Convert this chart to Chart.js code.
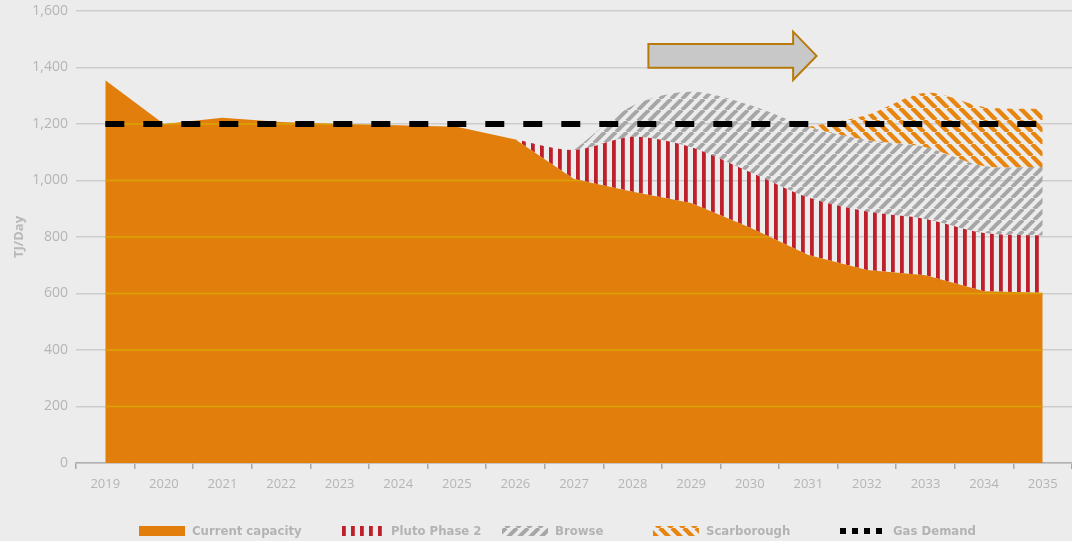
<!DOCTYPE html>
<html>
<head>
<meta charset="utf-8">
<script src="https://cdn.jsdelivr.net/npm/chart.js@4.4.1/dist/chart.umd.min.js"></script>
<style>
  html, body { margin: 0; padding: 0; background: #ececec; }
  #wrap { width: 1072px; height: 541px; position: relative; }
</style>
</head>
<body>
<div id="wrap"><canvas id="chart"></canvas></div>
<script>
// values, TJ/day
const years = ['2019', '2020', '2021', '2022', '2023', '2024', '2025', '2026', '2027',
  '2028', '2029', '2030', '2031', '2032', '2033', '2034', '2035'];
const currentCapacity = [1355, 1200, 1222, 1207, 1200, 1196, 1190, 1145, 1005, 960, 920, 834, 736, 683, 665, 608, 603];
// increments stacked on top of current capacity
const plutoPhase2 = [null, null, null, null, null, null, null, 0, 103, 195, 198, 196, 204, 207, 199, 206, 202];
const browse = [null, null, null, null, null, null, null, null, 0, 110, 196, 237, 250, 253, 254, 237, 243];
const scarborough = [null, null, null, null, null, null, null, null, null, null, null, null, 0, 89, 193, 209, 205];
const gasDemand = [1200, 1200, 1200, 1200, 1200, 1200, 1200, 1200, 1200, 1200, 1200, 1200, 1200, 1200, 1200, 1200, 1200];
const yTicks = [0, 200, 400, 600, 800, 1000, 1200, 1400, 1600];

const canvas = document.getElementById('chart');
const ctx = canvas.getContext('2d');

// hatch fills
function vStripes(color) {
  const c = document.createElement('canvas');
  c.width = 9; c.height = 9;
  const g = c.getContext('2d');
  g.fillStyle = color;
  g.fillRect(0, 0, 3.8, 9);
  return ctx.createPattern(c, 'repeat');
}
function diagStripes(color, size, lw, dir) {
  const c = document.createElement('canvas');
  c.width = size; c.height = size;
  const g = c.getContext('2d');
  g.strokeStyle = color;
  g.lineWidth = lw;
  for (let o = -size; o <= size; o += size) {
    g.beginPath();
    if (dir === '/') { g.moveTo(o, size); g.lineTo(o + size, 0); }
    else { g.moveTo(o, 0); g.lineTo(o + size, size); }
    g.stroke();
  }
  return ctx.createPattern(c, 'repeat');
}

const orange = '#e27f0c';
const redHatch = vStripes('#bd1f2b');
const greyHatch = diagStripes('#a6a6a6', 11, 4, '/');
const orangeHatch = diagStripes('#e8850f', 12, 4.4, '\\');

// yellowish grid lines seen through the orange area
const gridOnOrange = {
  id: 'gridOnOrange',
  afterDatasetDraw(chart, args) {
    if (args.index !== 0) return;
    const pts = chart.getDatasetMeta(0).data;
    const y = chart.scales.y;
    const c = chart.ctx;
    c.save();
    c.beginPath();
    c.moveTo(pts[0].x, y.bottom);
    pts.forEach(p => c.lineTo(p.x, p.y));
    c.lineTo(pts[pts.length - 1].x, y.bottom);
    c.closePath();
    c.clip();
    c.strokeStyle = '#d9a400';
    c.lineWidth = 1.5;
    yTicks.forEach(v => {
      if (v === 0) return;
      const py = y.getPixelForValue(v);
      c.beginPath();
      c.moveTo(pts[0].x, py);
      c.lineTo(pts[pts.length - 1].x, py);
      c.stroke();
    });
    c.restore();
  }
};

// arrow over 2028-2031
const arrow = {
  id: 'arrow',
  afterDatasetsDraw(chart) {
    const x = chart.scales.x, y = chart.scales.y, c = chart.ctx;
    const X = v => x.getPixelForValue(v), Y = v => y.getPixelForValue(v);
    c.save();
    c.beginPath();
    c.moveTo(X(9.27), Y(1483));
    c.lineTo(X(11.74), Y(1483));
    c.lineTo(X(11.74), Y(1527));
    c.lineTo(X(12.14), Y(1441));
    c.lineTo(X(11.74), Y(1356));
    c.lineTo(X(11.74), Y(1399));
    c.lineTo(X(9.27), Y(1399));
    c.closePath();
    c.fillStyle = '#c8c8c8';
    c.fill();
    c.strokeStyle = '#b87a0c';
    c.lineWidth = 2;
    c.stroke();
    c.restore();
  }
};

// legend drawn along the bottom
const legendX = [139, 338, 502, 653, 840];
const bottomLegend = {
  id: 'bottomLegend',
  afterDraw(chart) {
    const c = chart.ctx;
    const ly = 531;
    c.save();
    c.font = 'bold 13px "DejaVu Sans Condensed", "Liberation Sans Narrow", sans-serif';
    c.textBaseline = 'middle';
    chart.data.datasets.forEach((ds, i) => {
      const bx = legendX[i];
      if (ds.fill === false) {
        c.fillStyle = '#000';
        for (let k = 0; k < 4; k++) c.fillRect(bx + k * 12, ly - 3, 6, 6);
      } else {
        c.fillStyle = ds.backgroundColor;
        c.fillRect(bx, ly - 5, 46, 10);
      }
      c.fillStyle = '#b3b3b3';
      c.fillText(ds.label, bx + 53, ly + 1);
    });
    c.restore();
  }
};

new Chart(ctx, {
  type: 'line',
  data: {
    labels: years,
    datasets: [
      {
        label: 'Current capacity',
        data: currentCapacity,
        backgroundColor: orange,
        borderWidth: 0,
        pointRadius: 0,
        fill: 'origin',
        tension: 0,
      },
      {
        label: 'Pluto Phase 2',
        data: plutoPhase2,
        backgroundColor: redHatch,
        borderWidth: 0,
        pointRadius: 0,
        fill: '-1',
        tension: 0.3,
      },
      {
        label: 'Browse',
        data: browse,
        backgroundColor: greyHatch,
        borderWidth: 0,
        pointRadius: 0,
        fill: '-1',
        tension: 0.3,
      },
      {
        label: 'Scarborough',
        data: scarborough,
        backgroundColor: orangeHatch,
        borderWidth: 0,
        pointRadius: 0,
        fill: '-1',
        tension: 0.3,
      },
      {
        label: 'Gas Demand',
        data: gasDemand,
        stack: 'demand',
        order: -1,
        borderColor: '#000',
        borderWidth: 6,
        borderDash: [19, 19],
        borderCapStyle: 'butt',
        pointRadius: 0,
        fill: false,
      },
    ],
  },
  options: {
    responsive: true,
    maintainAspectRatio: false,
    animation: false,
    layout: { padding: { top: 11, right: 0, bottom: 48, left: 0 } },
    plugins: {
      legend: { display: false },
      tooltip: { enabled: false },
    },
    scales: {
      x: {
        offset: true,
        grid: {
          display: true,
          offset: true,
          drawOnChartArea: false,
          drawTicks: true,
          tickLength: 6,
          color: '#a8a8a8',
          lineWidth: 1.5,
        },
        border: { display: true, color: '#b0b0b0', width: 1.5 },
        ticks: {
          color: '#b5b5b5',
          padding: 7,
          font: { family: '"Open Sans"', size: 13 },
        },
        afterFit: (s) => { s.height = 30; },
      },
      y: {
        stacked: true,
        min: 0,
        max: 1600,
        afterBuildTicks: (s) => { s.ticks = yTicks.map(v => ({ value: v })); },
        grid: { color: '#cdcdcd', lineWidth: 1.5, drawTicks: false },
        border: { display: false },
        ticks: {
          color: '#b5b5b5',
          padding: 8,
          font: { family: '"Open Sans"', size: 14 },
        },
        title: {
          display: true,
          text: 'TJ/Day',
          color: '#b8b8b8',
          padding: { top: 11, bottom: 0 },
          font: { family: '"Open Sans"', size: 13, weight: 'bold' },
        },
        afterFit: (s) => { s.width = 76; s.paddingTop = 0; s.paddingBottom = 0; },
      },
    },
  },
  plugins: [gridOnOrange, arrow, bottomLegend],
});
</script>
</body>
</html>
